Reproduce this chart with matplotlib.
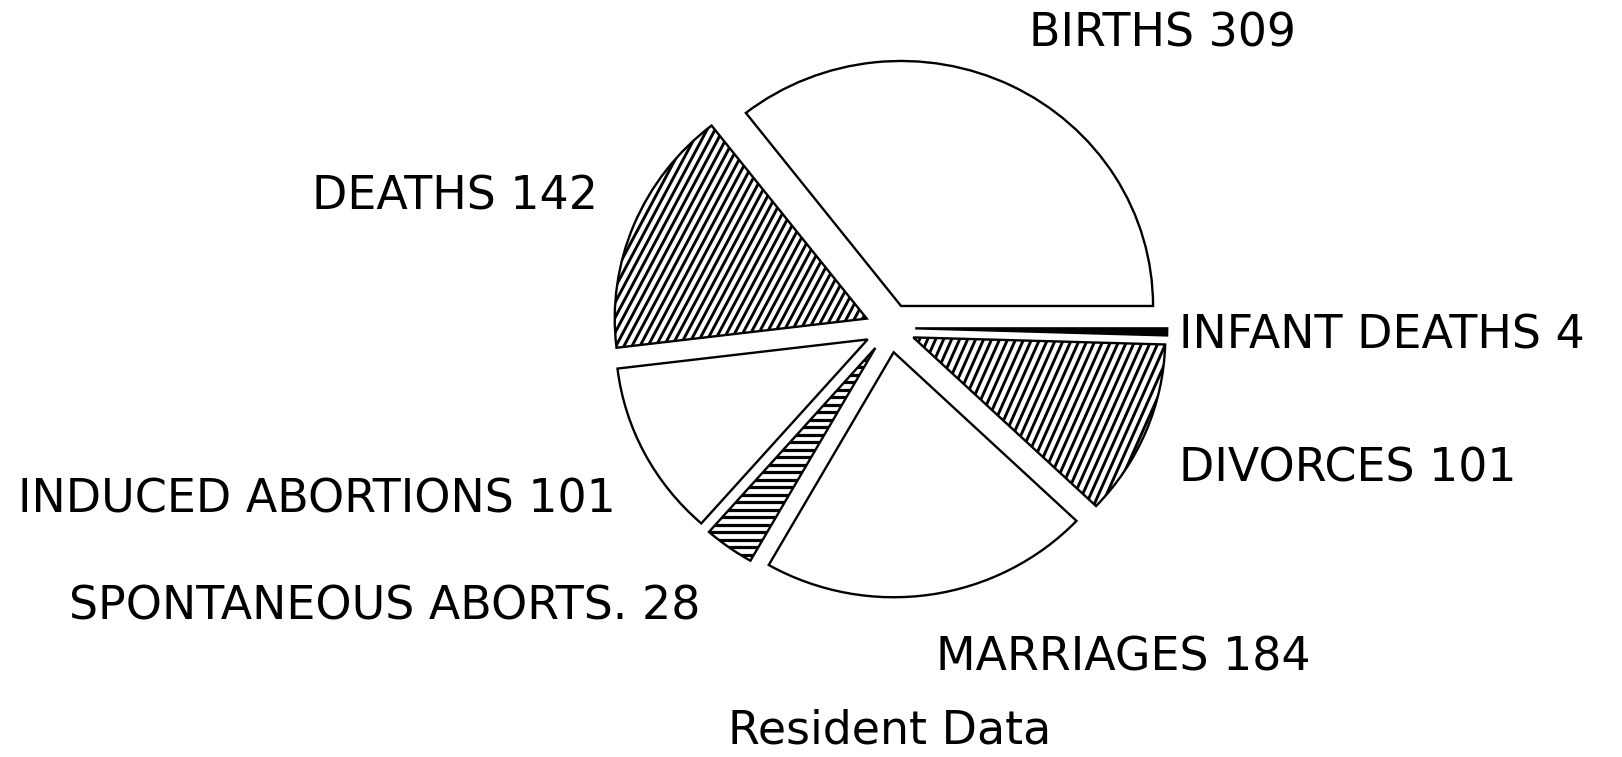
import numpy as np
import matplotlib
matplotlib.use("Agg")
import matplotlib.pyplot as plt
from matplotlib.collections import LineCollection
from matplotlib.transforms import IdentityTransform

labels = ["BIRTHS", "DEATHS", "INDUCED ABORTIONS", "SPONTANEOUS ABORTS.",
          "MARRIAGES", "DIVORCES", "INFANT DEATHS"]
values = [309, 142, 101, 28, 184, 101, 4]
fills = ["white", "white", "white", "white", "white", "white", "black"]
# hatch style per slice: (line angle in degrees, horizontal spacing px, width pt)
hatch_style = [None, (62, 8.0, 2.1), None, (0, 7.5, 2.3), None, (66, 8.0, 2.1), None]

W, H = 1622, 757
# pie centre and radii in pixels (a touch wider than tall)
cx, cy, rx, ry = 890, 328, 252, 245

# label anchor points (pixels, left edge / vertical centre)
label_pos = [(1029, 34), (312, 197), (18, 500), (69, 607),
             (936, 658), (1179, 469), (1179, 336)]

plt.rcParams["font.family"] = "DejaVu Sans"

fig = plt.figure(figsize=(W / 100, H / 100), dpi=100)
ax = fig.add_axes([0, 0, 1, 1])

wedges, _ = ax.pie(values, startangle=0, counterclock=True,
                   explode=[0.1] * len(values), radius=1,
                   colors=fills,
                   wedgeprops=dict(edgecolor="black", linewidth=1.7))

ax.set_aspect("auto")
ax.set_xlim(-cx / rx, (W - cx) / rx)
ax.set_ylim((cy - H) / ry, cy / ry)
ax.axis("off")


def add_hatch(wedge, angle, spacing, lw):
    # parallel lines in pixel space, clipped to the wedge outline
    bb = wedge.get_window_extent()
    mx, my = (bb.x0 + bb.x1) / 2, (bb.y0 + bb.y1) / 2
    L = max(bb.width, bb.height)
    a = np.radians(angle)
    u = np.array([np.cos(a), np.sin(a)])
    n = np.array([-np.sin(a), np.cos(a)])
    step = spacing * max(abs(np.sin(a)), 1e-6) if angle else spacing
    segs = []
    for s in np.arange(-L, L, step):
        p = np.array([mx, my]) + s * n
        segs.append([p - L * u, p + L * u])
    lc = LineCollection(segs, colors="black", linewidths=lw,
                        transform=IdentityTransform())
    lc.set_clip_path(wedge)
    ax.add_collection(lc)


for w, hs in zip(wedges, hatch_style):
    if hs:
        add_hatch(w, *hs)

for lab, v, (x, y) in zip(labels, values, label_pos):
    fig.text(x / W, 1 - y / H, f"{lab} {v}", fontsize=33,
             ha="left", va="center")

fig.text(cx / W, 1 - 744 / H, "Resident Data", fontsize=33,
         ha="center", va="baseline")

fig.savefig("out.png", dpi=100, facecolor="white")
